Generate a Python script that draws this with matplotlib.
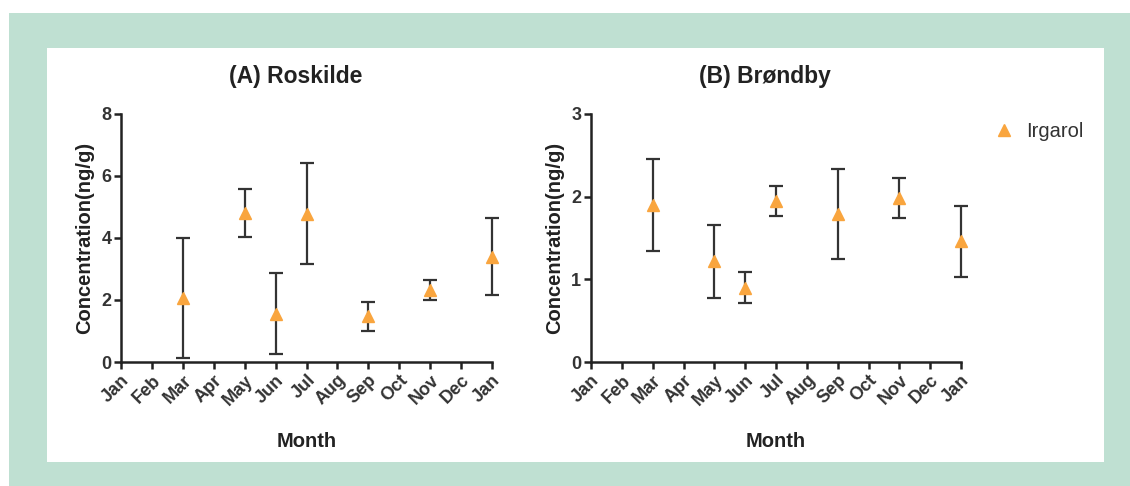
import matplotlib
matplotlib.use('Agg')
import matplotlib.pyplot as plt
from matplotlib.patches import Rectangle

# Data
months = ['Jan', 'Feb', 'Mar', 'Apr', 'May', 'Jun', 'Jul', 'Aug', 'Sep', 'Oct', 'Nov', 'Dec', 'Jan']

# (A) Roskilde
rosk_pos = [2, 4, 5, 6, 8, 10, 12]
rosk_mean = [2.06, 4.80, 1.56, 4.79, 1.47, 2.33, 3.40]
rosk_err = [1.93, 0.78, 1.30, 1.63, 0.47, 0.33, 1.24]

# (B) Brøndby
brond_pos = [2, 4, 5, 6, 8, 10, 12]
brond_mean = [1.90, 1.22, 0.90, 1.95, 1.79, 1.98, 1.46]
brond_err = [0.56, 0.44, 0.19, 0.18, 0.54, 0.24, 0.43]

plt.rcParams['font.family'] = ['Liberation Sans', 'DejaVu Sans']

fig = plt.figure(figsize=(11.3, 4.86), dpi=100)

# background frame
fig.patches.append(Rectangle((9 / 1130, 0), 1121 / 1130, 473 / 486, transform=fig.transFigure,
                             facecolor='#bfe0d2', edgecolor='none', zorder=-2))
fig.patches.append(Rectangle((47 / 1130, 24 / 486), 1057 / 1130, 414 / 486, transform=fig.transFigure,
                             facecolor='white', edgecolor='none', zorder=-1))

ax_a = fig.add_axes([121 / 1130, 124 / 486, 371 / 1130, 248 / 486])
ax_b = fig.add_axes([591 / 1130, 124 / 486, 370 / 1130, 248 / 486])

panels = [
    (ax_a, rosk_pos, rosk_mean, rosk_err, 8, [0, 2, 4, 6, 8], '(A) Roskilde'),
    (ax_b, brond_pos, brond_mean, brond_err, 3, [0, 1, 2, 3], '(B) Brøndby'),
]

for ax, pos, mean, err, ymax, yticks, title in panels:
    ax.set_facecolor('none')
    eb = ax.errorbar(pos, mean, yerr=err, fmt='none', ecolor='#333333', elinewidth=1.6,
                     capsize=5, capthick=1.6, zorder=2)
    for art in eb.lines[1] + eb.lines[2]:
        art.set_clip_on(False)
    ax.plot(pos, mean, linestyle='none', marker='^', markersize=8.5, color='#f9a53e',
            markeredgecolor='#f9a53e', zorder=3, label='Irgarol', clip_on=False)
    ax.set_xlim(0, 12)
    ax.set_ylim(0, ymax)
    ax.set_xticks(range(13))
    ax.set_xticklabels(months, rotation=45, ha='right', rotation_mode='anchor')
    ax.set_yticks(yticks)
    for s in ['top', 'right']:
        ax.spines[s].set_visible(False)
    for s in ['left', 'bottom']:
        ax.spines[s].set_linewidth(1.8)
        ax.spines[s].set_color('#222222')
    ax.tick_params(direction='out', length=5, width=1.8, color='#222222',
                   labelsize=13, labelcolor='#333333', pad=2)
    for lab in ax.get_xticklabels() + ax.get_yticklabels():
        lab.set_fontweight('bold')
    ax.set_xlabel('Month', fontsize=14.5, fontweight='bold', color='#222222', labelpad=17)
    ax.set_ylabel('Concentration(ng/g)', fontsize=14.5, fontweight='bold', color='#222222', labelpad=5)
    ax.text(0.47, 1.15, title, transform=ax.transAxes, ha='center', va='center',
            fontsize=16.5, fontweight='bold', color='#222222')

ax_b.legend(loc='upper left', bbox_to_anchor=(1.04, 1.04), frameon=False, fontsize=14.5,
            handlelength=1.0, handletextpad=0.6, labelcolor='#333333')

fig.savefig('out.png', dpi=100)
